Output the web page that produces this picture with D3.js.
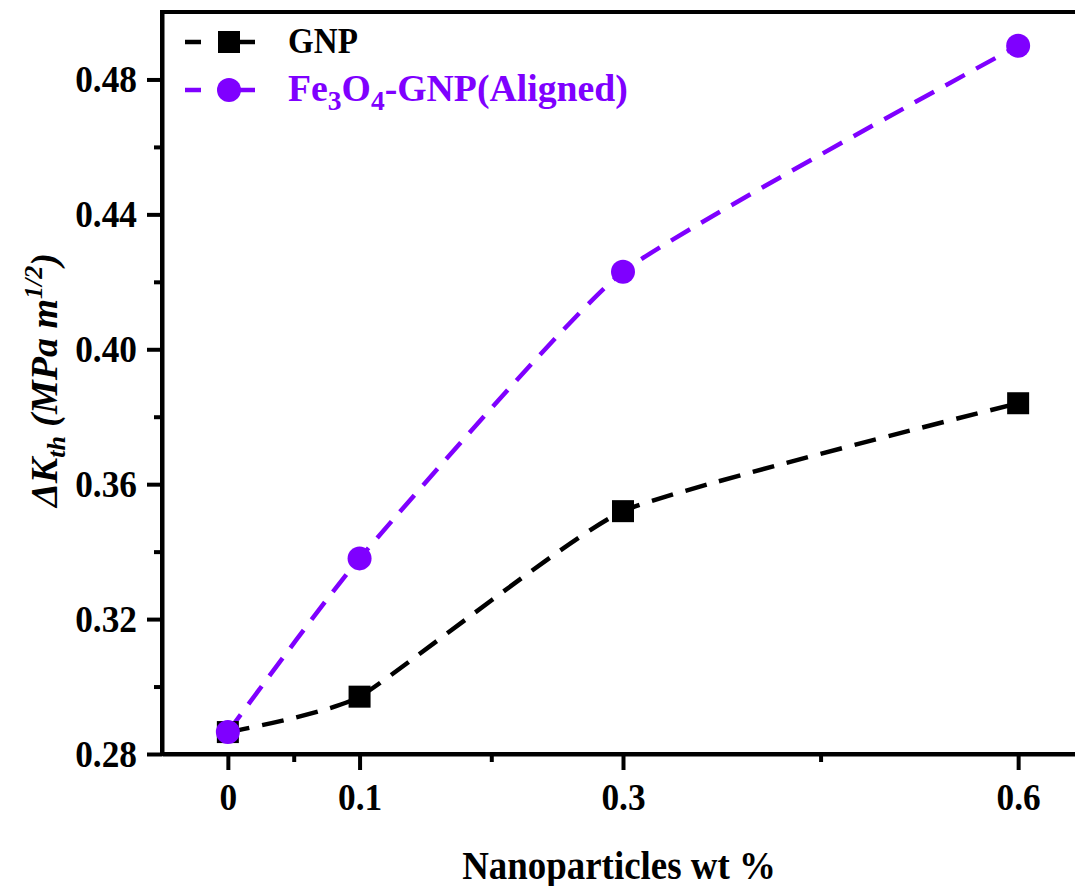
<!DOCTYPE html>
<html lang="en">
<head>
<meta charset="utf-8">
<title>Delta K_th vs nanoparticles</title>
<script src="https://d3js.org/d3.v7.min.js"></script>
<style>
  body { margin: 0; background: #fff; }
  #chart text { font-family: "Liberation Serif", "Times New Roman", serif; font-weight: bold; fill: #000; }
  #chart .domain, #chart .tick line { stroke: #000; stroke-width: 4; }
</style>
</head>
<body>
<div id="chart"></div>
<script>
"use strict"

// data
var wt = [0, 0.1, 0.3, 0.6];
var gnp = [0.2865, 0.297, 0.352, 0.384];
var fe3o4Gnp = [0.2865, 0.338, 0.423, 0.490];

var xTicks = [0, 0.1, 0.3, 0.6];
var xMinor = [0.05, 0.2, 0.45];
var yTicks = [0.28, 0.32, 0.36, 0.40, 0.44, 0.48];
var yMinor = [0.30, 0.34, 0.38, 0.42, 0.46];

var larguraSVG = 1075, alturaSVG = 886;
var purple = "#7f00ff";

var svg = d3.select("#chart")
  .append("svg")
    .attr("width", larguraSVG)
    .attr("height", alturaSVG);

svg.append("rect").attr("width", larguraSVG).attr("height", alturaSVG).attr("fill", "#fff");

var x = d3.scaleLinear().domain([-0.05, 0.65]).range([162, 1084]);
var y = d3.scaleLinear().domain([0.28, 0.50]).range([754, 12]);

// frame (right side runs off the picture)
svg.append("rect")
  .attr("x", x(-0.05)).attr("y", y(0.50))
  .attr("width", x(0.65) - x(-0.05)).attr("height", y(0.28) - y(0.50))
  .attr("fill", "none").attr("stroke", "#000").attr("stroke-width", 4);

// axes (the original font is a bit condensed, hence the scale(.93,1))
var eixoX = svg.append("g")
  .attr("transform", "translate(0," + y(0.28) + ")")
  .call(d3.axisBottom(x).tickValues(xTicks).tickSize(16).tickSizeOuter(0).tickFormat(d => d));
eixoX.selectAll("text").attr("y", 56).attr("dy", 0)
  .attr("transform", "scale(0.93,1)").style("font-size", "38px");

svg.append("g")
  .attr("transform", "translate(0," + y(0.28) + ")")
  .call(d3.axisBottom(x).tickValues(xMinor).tickSize(8).tickSizeOuter(0).tickFormat(""))
  .select(".domain").remove();

var eixoY = svg.append("g")
  .attr("transform", "translate(" + x(-0.05) + ",0)")
  .call(d3.axisLeft(y).tickValues(yTicks).tickSize(15).tickSizeOuter(0).tickFormat(d3.format(".2f")));
eixoY.selectAll("text").attr("x", -25 / 0.93).attr("dy", "0.33em")
  .attr("transform", "scale(0.93,1)").style("font-size", "38px");

svg.append("g")
  .attr("transform", "translate(" + x(-0.05) + ",0)")
  .call(d3.axisLeft(y).tickValues(yMinor).tickSize(8).tickSizeOuter(0).tickFormat(""))
  .select(".domain").remove();

// axis titles
svg.append("text")
  .attr("transform", "translate(619,879) scale(0.9,1)")
  .attr("text-anchor", "middle")
  .style("font-size", "41px")
  .text("Nanoparticles wt %");

var rotulo = svg.append("text")
  .attr("transform", "translate(57,380) rotate(-90)")
  .attr("text-anchor", "middle")
  .style("font-size", "38px")
  .style("font-style", "italic");
rotulo.append("tspan").text("ΔK");
rotulo.append("tspan").attr("dy", 8).style("font-size", "26px").text("th");
rotulo.append("tspan").attr("dy", -8).text(" (MPa m");
rotulo.append("tspan").attr("dy", -15).style("font-size", "26px").text("1/2");
rotulo.append("tspan").attr("dy", 15).text(")");

// lines
var linha = d3.line()
  .x((d, i) => x(wt[i]))
  .y(d => y(d))
  .curve(d3.curveCardinal.tension(0.55));

svg.append("path")
  .attr("d", linha(gnp))
  .attr("fill", "none").attr("stroke", "#000")
  .attr("stroke-width", 4.5).attr("stroke-dasharray", "22,13");

svg.append("path")
  .attr("d", linha(fe3o4Gnp))
  .attr("fill", "none").attr("stroke", purple)
  .attr("stroke-width", 4.5).attr("stroke-dasharray", "22,13");

// markers
svg.selectAll("rect.sq")
  .data(gnp)
  .enter()
    .append("rect")
    .attr("class", "sq")
    .attr("x", (d, i) => x(wt[i]) - 11)
    .attr("y", d => y(d) - 11)
    .attr("width", 22).attr("height", 22)
    .attr("fill", "#000");

svg.selectAll("circle.dot")
  .data(fe3o4Gnp)
  .enter()
    .append("circle")
    .attr("class", "dot")
    .attr("cx", (d, i) => x(wt[i]))
    .attr("cy", d => y(d))
    .attr("r", 12)
    .attr("fill", purple);

// legend
var leg = svg.append("g");
[[42, "#000"], [90, purple]].forEach(function (r) {
  leg.append("line").attr("x1", 185).attr("x2", 201).attr("y1", r[0]).attr("y2", r[0])
    .attr("stroke", r[1]).attr("stroke-width", 4.5);
  leg.append("line").attr("x1", 236).attr("x2", 255).attr("y1", r[0]).attr("y2", r[0])
    .attr("stroke", r[1]).attr("stroke-width", 4.5);
});
leg.append("rect").attr("x", 218).attr("y", 31).attr("width", 22).attr("height", 22).attr("fill", "#000");
leg.append("circle").attr("cx", 229).attr("cy", 90).attr("r", 12).attr("fill", purple);

leg.append("text").attr("transform", "translate(288,53) scale(0.92,1)").style("font-size", "36px").text("GNP");
var t2 = leg.append("text").attr("transform", "translate(288,101) scale(1.02,1)")
  .style("font-size", "37px").style("fill", purple);
t2.append("tspan").text("Fe");
t2.append("tspan").attr("dy", 9).style("font-size", "27px").text("3");
t2.append("tspan").attr("dy", -9).text("O");
t2.append("tspan").attr("dy", 9).style("font-size", "27px").text("4");
t2.append("tspan").attr("dy", -9).text("-GNP(Aligned)");
</script>
</body>
</html>
